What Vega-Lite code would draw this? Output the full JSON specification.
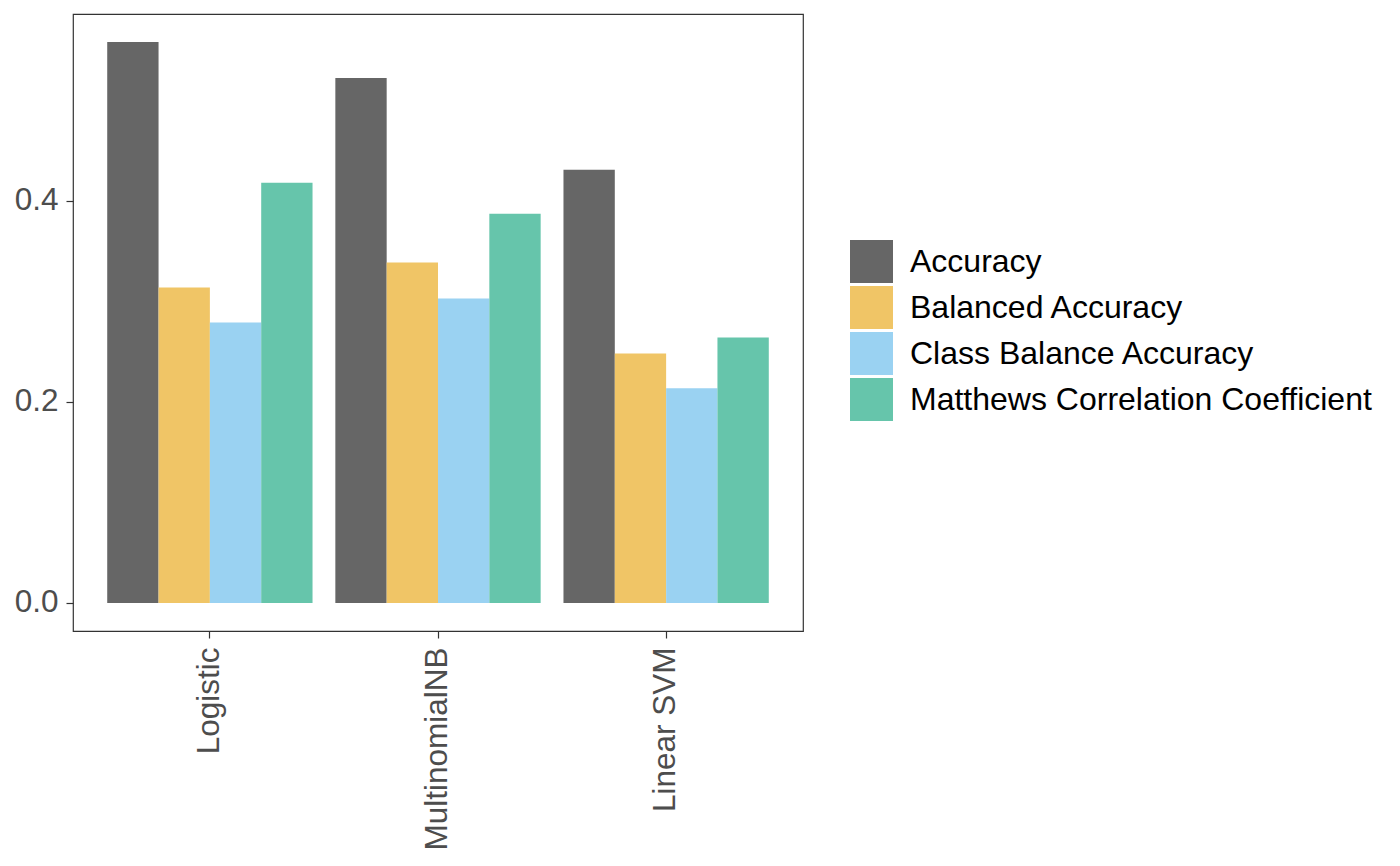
{
  "$schema": "https://vega.github.io/schema/vega-lite/v6.json",
  "autosize": {"type": "none"},
  "padding": {"left": 73, "top": 14, "right": 597, "bottom": 235},
  "width": 730,
  "height": 617,
  "background": "white",
  "config": {
    "font": "Liberation Sans",
    "view": {"stroke": "#333333", "strokeWidth": 1.2},
    "axis": {"grid": false, "domain": false, "tickColor": "#333333", "tickWidth": 1.2, "tickSize": 7, "labelColor": "#4D4D4D", "labelFont": "Liberation Sans", "labelFontSize": 31.5, "labelPadding": 8, "labelLimit": 400}
  },
  "data": {
    "values": [
      {"model": "Logistic", "metric": "Accuracy", "value": 0.5578},
      {"model": "Logistic", "metric": "Balanced Accuracy", "value": 0.3136},
      {"model": "Logistic", "metric": "Class Balance Accuracy", "value": 0.2789},
      {"model": "Logistic", "metric": "Matthews Correlation Coefficient", "value": 0.4179},
      {"model": "MultinomialNB", "metric": "Accuracy", "value": 0.5221},
      {"model": "MultinomialNB", "metric": "Balanced Accuracy", "value": 0.3385},
      {"model": "MultinomialNB", "metric": "Class Balance Accuracy", "value": 0.3027},
      {"model": "MultinomialNB", "metric": "Matthews Correlation Coefficient", "value": 0.3871},
      {"model": "Linear SVM", "metric": "Accuracy", "value": 0.4308},
      {"model": "Linear SVM", "metric": "Balanced Accuracy", "value": 0.2481},
      {"model": "Linear SVM", "metric": "Class Balance Accuracy", "value": 0.2134},
      {"model": "Linear SVM", "metric": "Matthews Correlation Coefficient", "value": 0.2640}
    ]
  },
  "mark": {"type": "bar", "strokeWidth": 0},
  "encoding": {
    "x": {
      "field": "model", "type": "nominal",
      "sort": ["Logistic", "MultinomialNB", "Linear SVM"],
      "scale": {"paddingInner": 0.1, "paddingOuter": 0.15},
      "axis": {"title": null, "labelAngle": -90, "labelAlign": "right", "labelBaseline": "middle", "labelPadding": 9}
    },
    "xOffset": {
      "field": "metric", "type": "nominal",
      "sort": ["Accuracy", "Balanced Accuracy", "Class Balance Accuracy", "Matthews Correlation Coefficient"],
      "scale": {"paddingInner": 0, "paddingOuter": 0}
    },
    "y": {
      "field": "value", "type": "quantitative",
      "scale": {"domain": [-0.0279, 0.5857], "nice": false, "zero": false},
      "axis": {"title": null, "values": [0, 0.2, 0.4], "format": ".1f"}
    },
    "color": {
      "field": "metric", "type": "nominal",
      "sort": ["Accuracy", "Balanced Accuracy", "Class Balance Accuracy", "Matthews Correlation Coefficient"],
      "scale": {"range": ["#666666", "#F0C566", "#9AD2F2", "#66C5AB"]},
      "legend": {
        "title": null, "orient": "none", "legendX": 777, "legendY": 226, "padding": 0,
        "symbolType": "square", "symbolSize": 1849, "symbolStrokeWidth": 0, "symbolOpacity": 1,
        "rowPadding": 3, "labelOffset": 17, "labelFontSize": 32, "labelColor": "#000000", "labelFont": "Liberation Sans", "labelLimit": 600
      }
    }
  }
}
